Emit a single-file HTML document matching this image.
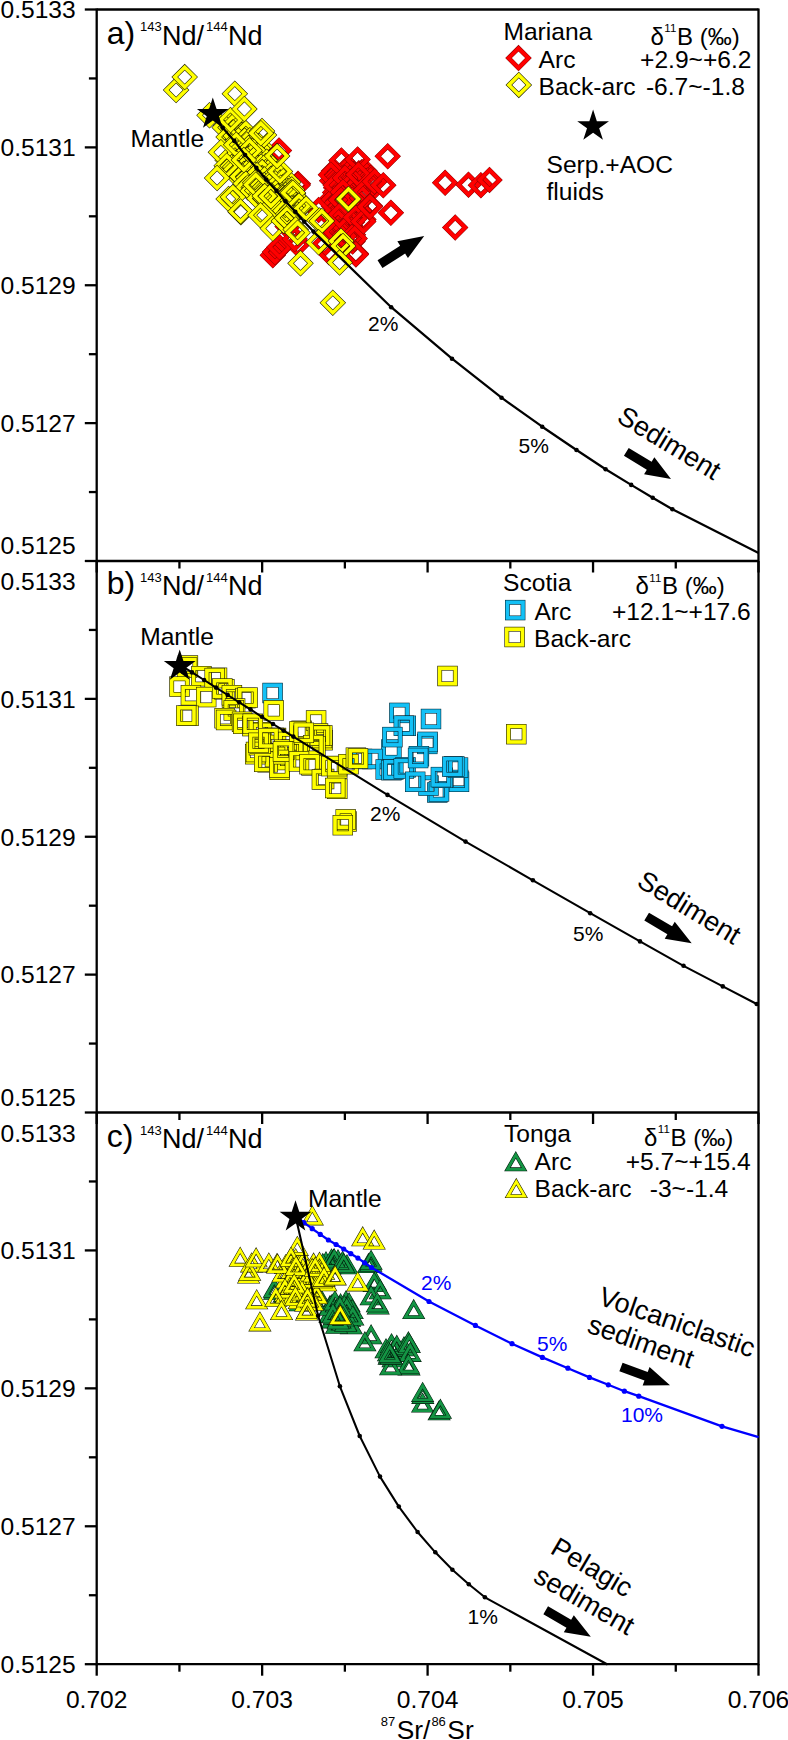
<!DOCTYPE html>
<html><head><meta charset="utf-8"><title>Nd-Sr isotope mixing</title>
<style>
html,body{margin:0;padding:0;background:#fff}
svg{display:block;font-family:"Liberation Sans",Arial,sans-serif}
</style></head><body>
<svg width="788" height="1740" viewBox="0 0 788 1740">
<rect width="788" height="1740" fill="#fff"/>
<defs>
<g id="dr"><rect x="-7.035" y="-7.035" width="14.07" height="14.07" transform="rotate(45)" fill="none" stroke="#7a0000" stroke-width="4.67"/><rect x="-7.035" y="-7.035" width="14.07" height="14.07" transform="rotate(45)" fill="none" stroke="#ff0000" stroke-width="3.91"/></g>
<g id="dy"><rect x="-7.035" y="-7.035" width="14.07" height="14.07" transform="rotate(45)" fill="none" stroke="#1c1c00" stroke-width="4.67"/><rect x="-7.035" y="-7.035" width="14.07" height="14.07" transform="rotate(45)" fill="none" stroke="#ffff00" stroke-width="3.57"/></g>
<g id="sc"><rect x="-7.8" y="-7.8" width="15.6" height="15.6" fill="none" stroke="#02222f" stroke-width="4.8"/><rect x="-7.8" y="-7.8" width="15.6" height="15.6" fill="none" stroke="#14c1f6" stroke-width="3.70"/></g>
<g id="sy"><rect x="-7.8" y="-7.8" width="15.6" height="15.6" fill="none" stroke="#1c1c00" stroke-width="4.8"/><rect x="-7.8" y="-7.8" width="15.6" height="15.6" fill="none" stroke="#ffff00" stroke-width="3.64"/></g>
<g id="tg"><polygon points="0.00,3.84 8.33,18.27 -8.33,18.27" fill="none" stroke="#031c0c" stroke-width="3.84" stroke-linejoin="miter" stroke-miterlimit="10"/><polygon points="0.00,3.84 8.33,18.27 -8.33,18.27" fill="none" stroke="#149544" stroke-width="2.74" stroke-linejoin="miter" stroke-miterlimit="10"/></g>
<g id="ty"><polygon points="0.00,3.84 8.33,18.27 -8.33,18.27" fill="none" stroke="#1c1c00" stroke-width="3.84" stroke-linejoin="miter" stroke-miterlimit="10"/><polygon points="0.00,3.84 8.33,18.27 -8.33,18.27" fill="none" stroke="#ffff00" stroke-width="2.74" stroke-linejoin="miter" stroke-miterlimit="10"/></g>
<polygon id="star" points="0.00,-16.70 3.75,-5.16 15.88,-5.16 6.07,1.97 9.82,13.51 0.00,6.38 -9.82,13.51 -6.07,1.97 -15.88,-5.16 -3.75,-5.16" fill="#000"/>
<polygon id="arrow" points="0,0 -25.5,-9.9 -25.5,-4.6 -52.3,-4.6 -52.3,4.6 -25.5,4.6 -25.5,9.9" fill="#000"/>
</defs>
<g stroke="#000" stroke-width="2.3" fill="none" stroke-linecap="butt">
<line x1="96.7" y1="8.5" x2="96.7" y2="1665.2"/>
<line x1="758.5" y1="8.5" x2="758.5" y2="1665.2"/>
<line x1="96.7" y1="9.5" x2="758.5" y2="9.5"/>
<line x1="96.7" y1="561.0" x2="758.5" y2="561.0"/>
<line x1="96.7" y1="1112.5" x2="758.5" y2="1112.5"/>
<line x1="96.7" y1="1664.2" x2="758.5" y2="1664.2"/>
<line x1="84.8" y1="9.50" x2="96.7" y2="9.50"/>
<line x1="88.9" y1="78.44" x2="96.7" y2="78.44"/>
<line x1="84.8" y1="147.38" x2="96.7" y2="147.38"/>
<line x1="88.9" y1="216.31" x2="96.7" y2="216.31"/>
<line x1="84.8" y1="285.25" x2="96.7" y2="285.25"/>
<line x1="88.9" y1="354.19" x2="96.7" y2="354.19"/>
<line x1="84.8" y1="423.12" x2="96.7" y2="423.12"/>
<line x1="88.9" y1="492.06" x2="96.7" y2="492.06"/>
<line x1="84.8" y1="561.00" x2="96.7" y2="561.00"/>
<line x1="88.9" y1="629.94" x2="96.7" y2="629.94"/>
<line x1="84.8" y1="698.88" x2="96.7" y2="698.88"/>
<line x1="88.9" y1="767.81" x2="96.7" y2="767.81"/>
<line x1="84.8" y1="836.75" x2="96.7" y2="836.75"/>
<line x1="88.9" y1="905.69" x2="96.7" y2="905.69"/>
<line x1="84.8" y1="974.62" x2="96.7" y2="974.62"/>
<line x1="88.9" y1="1043.56" x2="96.7" y2="1043.56"/>
<line x1="84.8" y1="1112.50" x2="96.7" y2="1112.50"/>
<line x1="88.9" y1="1181.46" x2="96.7" y2="1181.46"/>
<line x1="84.8" y1="1250.42" x2="96.7" y2="1250.42"/>
<line x1="88.9" y1="1319.39" x2="96.7" y2="1319.39"/>
<line x1="84.8" y1="1388.35" x2="96.7" y2="1388.35"/>
<line x1="88.9" y1="1457.31" x2="96.7" y2="1457.31"/>
<line x1="84.8" y1="1526.28" x2="96.7" y2="1526.28"/>
<line x1="88.9" y1="1595.24" x2="96.7" y2="1595.24"/>
<line x1="84.8" y1="1664.20" x2="96.7" y2="1664.20"/>
<line x1="96.70" y1="561.0" x2="96.70" y2="572.5"/>
<line x1="179.43" y1="561.0" x2="179.43" y2="568.5"/>
<line x1="262.15" y1="561.0" x2="262.15" y2="572.5"/>
<line x1="344.88" y1="561.0" x2="344.88" y2="568.5"/>
<line x1="427.60" y1="561.0" x2="427.60" y2="572.5"/>
<line x1="510.32" y1="561.0" x2="510.32" y2="568.5"/>
<line x1="593.05" y1="561.0" x2="593.05" y2="572.5"/>
<line x1="675.77" y1="561.0" x2="675.77" y2="568.5"/>
<line x1="758.50" y1="561.0" x2="758.50" y2="572.5"/>
<line x1="96.70" y1="1112.5" x2="96.70" y2="1124.0"/>
<line x1="179.43" y1="1112.5" x2="179.43" y2="1120.0"/>
<line x1="262.15" y1="1112.5" x2="262.15" y2="1124.0"/>
<line x1="344.88" y1="1112.5" x2="344.88" y2="1120.0"/>
<line x1="427.60" y1="1112.5" x2="427.60" y2="1124.0"/>
<line x1="510.32" y1="1112.5" x2="510.32" y2="1120.0"/>
<line x1="593.05" y1="1112.5" x2="593.05" y2="1124.0"/>
<line x1="675.77" y1="1112.5" x2="675.77" y2="1120.0"/>
<line x1="758.50" y1="1112.5" x2="758.50" y2="1124.0"/>
<line x1="96.70" y1="1664.2" x2="96.70" y2="1675.7"/>
<line x1="179.43" y1="1664.2" x2="179.43" y2="1671.7"/>
<line x1="262.15" y1="1664.2" x2="262.15" y2="1675.7"/>
<line x1="344.88" y1="1664.2" x2="344.88" y2="1671.7"/>
<line x1="427.60" y1="1664.2" x2="427.60" y2="1675.7"/>
<line x1="510.32" y1="1664.2" x2="510.32" y2="1671.7"/>
<line x1="593.05" y1="1664.2" x2="593.05" y2="1675.7"/>
<line x1="675.77" y1="1664.2" x2="675.77" y2="1671.7"/>
<line x1="758.50" y1="1664.2" x2="758.50" y2="1675.7"/>
</g>
<g font-size="24.6" fill="#000">
<text x="75.7" y="18.3" text-anchor="end">0.5133</text>
<text x="75.7" y="156.2" text-anchor="end">0.5131</text>
<text x="75.7" y="294.1" text-anchor="end">0.5129</text>
<text x="75.7" y="431.9" text-anchor="end">0.5127</text>
<text x="75.7" y="554.0" text-anchor="end">0.5125</text>
<text x="75.7" y="590.3" text-anchor="end">0.5133</text>
<text x="75.7" y="707.7" text-anchor="end">0.5131</text>
<text x="75.7" y="845.5" text-anchor="end">0.5129</text>
<text x="75.7" y="983.4" text-anchor="end">0.5127</text>
<text x="75.7" y="1105.5" text-anchor="end">0.5125</text>
<text x="75.7" y="1141.8" text-anchor="end">0.5133</text>
<text x="75.7" y="1259.2" text-anchor="end">0.5131</text>
<text x="75.7" y="1397.1" text-anchor="end">0.5129</text>
<text x="75.7" y="1535.1" text-anchor="end">0.5127</text>
<text x="75.7" y="1673.0" text-anchor="end">0.5125</text>
<text x="96.7" y="1708.2" text-anchor="middle">0.702</text>
<text x="262.1" y="1708.2" text-anchor="middle">0.703</text>
<text x="427.6" y="1708.2" text-anchor="middle">0.704</text>
<text x="593.0" y="1708.2" text-anchor="middle">0.705</text>
<text x="758.5" y="1708.2" text-anchor="middle">0.706</text>
</g>
<text x="380.8" y="1739.3" font-size="26.3"><tspan font-size="13" dy="-13.3">87</tspan><tspan dy="13.3" dx="1.5">Sr/</tspan><tspan font-size="13" dy="-13.3" dx="1">86</tspan><tspan dy="13.3" dx="1.5">Sr</tspan></text>
<use href="#dr" x="348.4" y="167.4"/>
<use href="#dr" x="333.0" y="173.2"/>
<use href="#dr" x="333.9" y="171.1"/>
<use href="#dr" x="345.9" y="171.5"/>
<use href="#dr" x="349.9" y="172.5"/>
<use href="#dr" x="352.2" y="172.1"/>
<use href="#dr" x="358.9" y="173.2"/>
<use href="#dr" x="361.8" y="172.2"/>
<use href="#dr" x="364.4" y="170.8"/>
<use href="#dr" x="336.2" y="176.9"/>
<use href="#dr" x="339.3" y="176.0"/>
<use href="#dr" x="344.2" y="177.3"/>
<use href="#dr" x="348.7" y="175.8"/>
<use href="#dr" x="353.0" y="174.3"/>
<use href="#dr" x="355.6" y="177.0"/>
<use href="#dr" x="363.7" y="176.6"/>
<use href="#dr" x="365.8" y="174.9"/>
<use href="#dr" x="370.6" y="178.1"/>
<use href="#dr" x="332.1" y="180.8"/>
<use href="#dr" x="336.8" y="179.5"/>
<use href="#dr" x="339.9" y="182.4"/>
<use href="#dr" x="344.5" y="180.4"/>
<use href="#dr" x="347.7" y="180.8"/>
<use href="#dr" x="354.8" y="178.6"/>
<use href="#dr" x="358.5" y="181.9"/>
<use href="#dr" x="367.4" y="180.7"/>
<use href="#dr" x="370.8" y="180.3"/>
<use href="#dr" x="335.7" y="183.8"/>
<use href="#dr" x="339.8" y="184.9"/>
<use href="#dr" x="343.6" y="184.4"/>
<use href="#dr" x="348.8" y="185.5"/>
<use href="#dr" x="353.4" y="184.8"/>
<use href="#dr" x="355.5" y="183.9"/>
<use href="#dr" x="336.1" y="187.7"/>
<use href="#dr" x="337.9" y="187.5"/>
<use href="#dr" x="345.2" y="188.4"/>
<use href="#dr" x="347.1" y="189.9"/>
<use href="#dr" x="352.4" y="187.7"/>
<use href="#dr" x="335.1" y="192.6"/>
<use href="#dr" x="338.3" y="195.4"/>
<use href="#dr" x="344.2" y="192.6"/>
<use href="#dr" x="349.0" y="195.1"/>
<use href="#dr" x="366.9" y="194.0"/>
<use href="#dr" x="332.2" y="198.3"/>
<use href="#dr" x="334.3" y="198.8"/>
<use href="#dr" x="339.4" y="198.5"/>
<use href="#dr" x="343.5" y="198.7"/>
<use href="#dr" x="346.9" y="197.4"/>
<use href="#dr" x="354.9" y="199.7"/>
<use href="#dr" x="356.6" y="199.6"/>
<use href="#dr" x="332.5" y="200.8"/>
<use href="#dr" x="336.7" y="204.4"/>
<use href="#dr" x="340.1" y="201.3"/>
<use href="#dr" x="345.7" y="204.5"/>
<use href="#dr" x="349.4" y="202.6"/>
<use href="#dr" x="352.5" y="202.0"/>
<use href="#dr" x="356.2" y="203.3"/>
<use href="#dr" x="337.0" y="205.1"/>
<use href="#dr" x="338.6" y="206.3"/>
<use href="#dr" x="346.1" y="208.1"/>
<use href="#dr" x="348.0" y="205.9"/>
<use href="#dr" x="353.7" y="208.3"/>
<use href="#dr" x="337.0" y="210.3"/>
<use href="#dr" x="340.8" y="211.8"/>
<use href="#dr" x="345.6" y="210.9"/>
<use href="#dr" x="348.0" y="210.6"/>
<use href="#dr" x="354.5" y="211.8"/>
<use href="#dr" x="359.2" y="212.9"/>
<use href="#dr" x="360.4" y="211.6"/>
<use href="#dr" x="334.8" y="216.3"/>
<use href="#dr" x="340.9" y="215.3"/>
<use href="#dr" x="344.5" y="214.7"/>
<use href="#dr" x="346.9" y="214.9"/>
<use href="#dr" x="354.5" y="216.1"/>
<use href="#dr" x="333.6" y="219.2"/>
<use href="#dr" x="341.7" y="219.9"/>
<use href="#dr" x="342.7" y="218.9"/>
<use href="#dr" x="347.6" y="221.2"/>
<use href="#dr" x="363.4" y="219.4"/>
<use href="#dr" x="337.3" y="223.8"/>
<use href="#dr" x="340.2" y="224.4"/>
<use href="#dr" x="343.5" y="222.9"/>
<use href="#dr" x="350.2" y="226.5"/>
<use href="#dr" x="341.7" y="228.8"/>
<use href="#dr" x="344.8" y="229.6"/>
<use href="#dr" x="350.3" y="228.6"/>
<use href="#dr" x="340.0" y="231.7"/>
<use href="#dr" x="342.5" y="233.9"/>
<use href="#dr" x="353.0" y="234.8"/>
<use href="#dr" x="341.5" y="237.0"/>
<use href="#dr" x="352.3" y="239.4"/>
<use href="#dr" x="344.4" y="242.4"/>
<use href="#dr" x="352.6" y="241.6"/>
<use href="#dr" x="279.0" y="150.4"/>
<use href="#dr" x="298.0" y="183.8"/>
<use href="#dr" x="297.6" y="185.2"/>
<use href="#dr" x="287.6" y="226.6"/>
<use href="#dr" x="297.6" y="244.2"/>
<use href="#dr" x="277.6" y="249.5"/>
<use href="#dr" x="272.8" y="255.2"/>
<use href="#dr" x="275.0" y="252.0"/>
<use href="#dr" x="279.5" y="247.0"/>
<use href="#dr" x="294.7" y="239.0"/>
<use href="#dr" x="341.4" y="160.5"/>
<use href="#dr" x="357.6" y="159.5"/>
<use href="#dr" x="330.9" y="174.7"/>
<use href="#dr" x="335.7" y="185.2"/>
<use href="#dr" x="333.8" y="206.1"/>
<use href="#dr" x="318.6" y="210.0"/>
<use href="#dr" x="324.3" y="244.2"/>
<use href="#dr" x="329.0" y="252.3"/>
<use href="#dr" x="345.0" y="178.0"/>
<use href="#dr" x="350.0" y="186.0"/>
<use href="#dr" x="343.0" y="192.0"/>
<use href="#dr" x="352.0" y="200.0"/>
<use href="#dr" x="347.0" y="208.0"/>
<use href="#dr" x="356.0" y="206.0"/>
<use href="#dr" x="341.0" y="200.0"/>
<use href="#dr" x="338.0" y="222.0"/>
<use href="#dr" x="346.0" y="228.0"/>
<use href="#dr" x="352.0" y="222.0"/>
<use href="#dr" x="344.0" y="236.0"/>
<use href="#dr" x="336.0" y="232.0"/>
<use href="#dr" x="360.0" y="212.0"/>
<use href="#dr" x="362.0" y="198.0"/>
<use href="#dr" x="358.5" y="174.7"/>
<use href="#dr" x="364.2" y="191.9"/>
<use href="#dr" x="374.7" y="181.4"/>
<use href="#dr" x="383.3" y="185.2"/>
<use href="#dr" x="339.5" y="215.7"/>
<use href="#dr" x="355.7" y="217.6"/>
<use href="#dr" x="363.3" y="221.4"/>
<use href="#dr" x="370.0" y="206.1"/>
<use href="#dr" x="369.9" y="206.7"/>
<use href="#dr" x="351.8" y="237.1"/>
<use href="#dr" x="354.7" y="238.5"/>
<use href="#dr" x="355.8" y="253.6"/>
<use href="#dr" x="355.9" y="254.4"/>
<use href="#dr" x="390.9" y="212.8"/>
<use href="#dr" x="387.7" y="156.3"/>
<use href="#dr" x="445.1" y="182.7"/>
<use href="#dr" x="468.5" y="184.8"/>
<use href="#dr" x="480.9" y="185.2"/>
<use href="#dr" x="489.5" y="179.9"/>
<use href="#dr" x="455.2" y="227.5"/>
<use href="#dy" x="226.2" y="125.3"/>
<use href="#dy" x="232.5" y="121.2"/>
<use href="#dy" x="224.7" y="127.4"/>
<use href="#dy" x="232.6" y="126.7"/>
<use href="#dy" x="239.1" y="127.2"/>
<use href="#dy" x="233.4" y="132.5"/>
<use href="#dy" x="235.7" y="135.7"/>
<use href="#dy" x="242.2" y="134.9"/>
<use href="#dy" x="245.8" y="133.1"/>
<use href="#dy" x="238.4" y="140.5"/>
<use href="#dy" x="244.6" y="140.6"/>
<use href="#dy" x="249.9" y="140.3"/>
<use href="#dy" x="237.2" y="147.2"/>
<use href="#dy" x="244.8" y="147.3"/>
<use href="#dy" x="246.8" y="144.5"/>
<use href="#dy" x="252.4" y="145.3"/>
<use href="#dy" x="259.7" y="146.3"/>
<use href="#dy" x="239.4" y="151.4"/>
<use href="#dy" x="242.3" y="150.4"/>
<use href="#dy" x="248.5" y="148.1"/>
<use href="#dy" x="253.2" y="150.4"/>
<use href="#dy" x="257.5" y="148.3"/>
<use href="#dy" x="235.0" y="154.7"/>
<use href="#dy" x="242.0" y="158.0"/>
<use href="#dy" x="246.0" y="157.1"/>
<use href="#dy" x="252.1" y="156.2"/>
<use href="#dy" x="258.6" y="155.6"/>
<use href="#dy" x="227.6" y="160.2"/>
<use href="#dy" x="231.7" y="161.2"/>
<use href="#dy" x="239.4" y="162.8"/>
<use href="#dy" x="244.8" y="163.0"/>
<use href="#dy" x="247.1" y="160.0"/>
<use href="#dy" x="253.6" y="160.1"/>
<use href="#dy" x="258.8" y="162.2"/>
<use href="#dy" x="266.7" y="161.7"/>
<use href="#dy" x="231.3" y="166.9"/>
<use href="#dy" x="235.2" y="167.0"/>
<use href="#dy" x="244.8" y="168.1"/>
<use href="#dy" x="246.1" y="166.9"/>
<use href="#dy" x="254.7" y="165.6"/>
<use href="#dy" x="261.1" y="166.6"/>
<use href="#dy" x="265.6" y="166.3"/>
<use href="#dy" x="272.6" y="168.2"/>
<use href="#dy" x="233.9" y="171.5"/>
<use href="#dy" x="238.3" y="173.1"/>
<use href="#dy" x="243.9" y="174.1"/>
<use href="#dy" x="246.8" y="172.9"/>
<use href="#dy" x="253.1" y="173.1"/>
<use href="#dy" x="261.5" y="173.0"/>
<use href="#dy" x="262.2" y="172.1"/>
<use href="#dy" x="271.2" y="174.2"/>
<use href="#dy" x="276.4" y="173.9"/>
<use href="#dy" x="278.7" y="174.5"/>
<use href="#dy" x="242.3" y="176.6"/>
<use href="#dy" x="248.4" y="177.6"/>
<use href="#dy" x="252.2" y="180.1"/>
<use href="#dy" x="257.0" y="175.3"/>
<use href="#dy" x="264.5" y="179.5"/>
<use href="#dy" x="270.9" y="179.1"/>
<use href="#dy" x="275.5" y="178.7"/>
<use href="#dy" x="280.3" y="176.7"/>
<use href="#dy" x="245.7" y="183.6"/>
<use href="#dy" x="255.9" y="182.6"/>
<use href="#dy" x="259.3" y="182.7"/>
<use href="#dy" x="264.3" y="185.1"/>
<use href="#dy" x="269.2" y="184.0"/>
<use href="#dy" x="275.5" y="183.5"/>
<use href="#dy" x="283.2" y="181.2"/>
<use href="#dy" x="288.2" y="182.3"/>
<use href="#dy" x="247.9" y="187.5"/>
<use href="#dy" x="252.5" y="191.1"/>
<use href="#dy" x="257.2" y="190.4"/>
<use href="#dy" x="264.0" y="188.1"/>
<use href="#dy" x="269.2" y="186.7"/>
<use href="#dy" x="275.4" y="187.2"/>
<use href="#dy" x="280.8" y="187.8"/>
<use href="#dy" x="288.6" y="190.9"/>
<use href="#dy" x="291.8" y="189.5"/>
<use href="#dy" x="261.2" y="194.3"/>
<use href="#dy" x="265.6" y="196.5"/>
<use href="#dy" x="271.3" y="195.6"/>
<use href="#dy" x="277.4" y="196.5"/>
<use href="#dy" x="282.4" y="196.7"/>
<use href="#dy" x="285.6" y="194.9"/>
<use href="#dy" x="293.0" y="193.7"/>
<use href="#dy" x="259.3" y="198.5"/>
<use href="#dy" x="266.3" y="199.3"/>
<use href="#dy" x="269.1" y="200.5"/>
<use href="#dy" x="273.9" y="198.9"/>
<use href="#dy" x="283.2" y="197.8"/>
<use href="#dy" x="284.8" y="198.3"/>
<use href="#dy" x="290.9" y="199.4"/>
<use href="#dy" x="296.4" y="199.0"/>
<use href="#dy" x="272.6" y="204.8"/>
<use href="#dy" x="275.5" y="205.9"/>
<use href="#dy" x="280.2" y="207.0"/>
<use href="#dy" x="287.1" y="205.7"/>
<use href="#dy" x="292.3" y="207.7"/>
<use href="#dy" x="300.0" y="207.0"/>
<use href="#dy" x="277.9" y="211.5"/>
<use href="#dy" x="278.9" y="212.8"/>
<use href="#dy" x="285.3" y="210.7"/>
<use href="#dy" x="292.4" y="209.0"/>
<use href="#dy" x="297.6" y="208.6"/>
<use href="#dy" x="287.2" y="214.9"/>
<use href="#dy" x="176.1" y="90.1"/>
<use href="#dy" x="184.7" y="77.1"/>
<use href="#dy" x="209.5" y="115.2"/>
<use href="#dy" x="228.6" y="137.1"/>
<use href="#dy" x="220.9" y="152.3"/>
<use href="#dy" x="226.7" y="165.7"/>
<use href="#dy" x="217.1" y="178.0"/>
<use href="#dy" x="228.6" y="199.0"/>
<use href="#dy" x="240.9" y="212.3"/>
<use href="#dy" x="232.9" y="197.1"/>
<use href="#dy" x="240.5" y="211.4"/>
<use href="#dy" x="236.2" y="144.7"/>
<use href="#dy" x="249.5" y="150.4"/>
<use href="#dy" x="243.8" y="160.0"/>
<use href="#dy" x="255.2" y="182.8"/>
<use href="#dy" x="255.7" y="184.8"/>
<use href="#dy" x="264.7" y="196.1"/>
<use href="#dy" x="270.9" y="196.2"/>
<use href="#dy" x="263.8" y="215.2"/>
<use href="#dy" x="260.5" y="215.2"/>
<use href="#dy" x="272.8" y="228.5"/>
<use href="#dy" x="280.0" y="171.4"/>
<use href="#dy" x="277.1" y="156.1"/>
<use href="#dy" x="291.4" y="192.3"/>
<use href="#dy" x="290.9" y="193.3"/>
<use href="#dy" x="292.9" y="192.8"/>
<use href="#dy" x="283.8" y="220.9"/>
<use href="#dy" x="287.1" y="218.1"/>
<use href="#dy" x="295.7" y="229.5"/>
<use href="#dy" x="299.0" y="205.6"/>
<use href="#dy" x="306.1" y="208.6"/>
<use href="#dy" x="297.6" y="232.8"/>
<use href="#dy" x="300.5" y="263.3"/>
<use href="#dy" x="230.5" y="120.0"/>
<use href="#dy" x="234.8" y="93.7"/>
<use href="#dy" x="244.4" y="109.0"/>
<use href="#dy" x="264.0" y="135.0"/>
<use href="#dy" x="262.0" y="131.0"/>
<use href="#dy" x="260.9" y="133.3"/>
<use href="#dy" x="319.5" y="220.4"/>
<use href="#dy" x="321.8" y="220.9"/>
<use href="#dy" x="318.6" y="242.3"/>
<use href="#dy" x="341.0" y="241.0"/>
<use href="#dy" x="343.0" y="246.0"/>
<use href="#dy" x="339.6" y="262.6"/>
<use href="#dy" x="348.1" y="199.5"/>
<use href="#dy" x="348.5" y="199.0"/>
<use href="#dy" x="332.8" y="302.8"/>
<path d="M212.8,113.5 L222.7,127.7 L234.3,140.9 L245.1,155.0 L256.4,167.9 L266.3,179.5 L276.5,191.0 L285.4,201.3 L295.3,211.8 L304.2,221.7 L313.5,231.6 L391.2,307.2 L452.0,358.7 L501.5,397.7 L542.2,426.7 L576.5,450.0 L605.6,469.2 L631.2,484.9 L652.7,497.7 L672.4,509.3 L758.6,553.0" fill="none" stroke="#000" stroke-width="2.25" stroke-linejoin="round"/>
<circle cx="222.7" cy="127.7" r="2.3" fill="#000"/>
<circle cx="234.3" cy="140.9" r="2.3" fill="#000"/>
<circle cx="245.1" cy="155.0" r="2.3" fill="#000"/>
<circle cx="256.4" cy="167.9" r="2.3" fill="#000"/>
<circle cx="266.3" cy="179.5" r="2.3" fill="#000"/>
<circle cx="276.5" cy="191.0" r="2.3" fill="#000"/>
<circle cx="285.4" cy="201.3" r="2.3" fill="#000"/>
<circle cx="295.3" cy="211.8" r="2.3" fill="#000"/>
<circle cx="304.2" cy="221.7" r="2.3" fill="#000"/>
<circle cx="313.5" cy="231.6" r="2.3" fill="#000"/>
<circle cx="391.2" cy="307.2" r="2.3" fill="#000"/>
<circle cx="452.0" cy="358.7" r="2.3" fill="#000"/>
<circle cx="501.5" cy="397.7" r="2.3" fill="#000"/>
<circle cx="542.2" cy="426.7" r="2.3" fill="#000"/>
<circle cx="576.5" cy="450.0" r="2.3" fill="#000"/>
<circle cx="605.6" cy="469.2" r="2.3" fill="#000"/>
<circle cx="631.2" cy="484.9" r="2.3" fill="#000"/>
<circle cx="652.7" cy="497.7" r="2.3" fill="#000"/>
<circle cx="672.4" cy="509.3" r="2.3" fill="#000"/>
<use href="#star" x="212.8" y="114.2"/>
<use href="#star" x="593.1" y="126.3"/>
<text x="106.8" y="43.8" font-size="32">a)</text>
<text x="140.0" y="45" font-size="27"><tspan font-size="13" dy="-13.6">143</tspan><tspan dy="13.6" dx="0.3">Nd/</tspan><tspan font-size="13" dy="-13.6" dx="2">144</tspan><tspan dy="13.6" dx="0.3">Nd</tspan></text>
<text x="130.4" y="147.0" font-size="24.6" fill="#000" text-anchor="start">Mantle</text>
<text x="546.5" y="172.5" font-size="24.6" fill="#000" text-anchor="start">Serp.+AOC</text>
<text x="546.5" y="200.0" font-size="24.6" fill="#000" text-anchor="start">fluids</text>
<text x="368.0" y="331.0" font-size="21" fill="#000" text-anchor="start">2%</text>
<text x="518.5" y="453.0" font-size="21" fill="#000" text-anchor="start">5%</text>
<text transform="translate(615.4,421.0) rotate(31.3)" font-size="27.2" fill="#000">Sediment</text>
<use href="#arrow" transform="translate(671.0,479.0) rotate(31.3)"/>
<use href="#arrow" transform="translate(424.2,236.1) rotate(-32.3)"/>
<text x="503.4" y="40.0" font-size="24.6" fill="#000" text-anchor="start">Mariana</text>
<text x="650.5" y="44.8" font-size="24">δ<tspan font-size="11.5" dy="-12.5" dx="0.5">11</tspan><tspan dy="12.5" dx="0.8">B (‰)</tspan></text>
<use href="#dr" x="518.5" y="58.1"/>
<use href="#dy" x="518.8" y="84.9"/>
<text x="538.6" y="68.2" font-size="24.6" fill="#000" text-anchor="start">Arc</text>
<text x="538.6" y="94.5" font-size="24.6" fill="#000" text-anchor="start">Back-arc</text>
<text x="751.5" y="68.2" font-size="24.6" fill="#000" text-anchor="end">+2.9~+6.2</text>
<text x="745.0" y="94.5" font-size="24.6" fill="#000" text-anchor="end">-6.7~-1.8</text>
<use href="#sc" x="272.6" y="693.0"/>
<use href="#sc" x="399.4" y="712.9"/>
<use href="#sc" x="431.0" y="719.0"/>
<use href="#sc" x="405.8" y="725.8"/>
<use href="#sc" x="403.8" y="725.7"/>
<use href="#sc" x="427.3" y="743.9"/>
<use href="#sc" x="427.6" y="741.9"/>
<use href="#sc" x="391.4" y="749.5"/>
<use href="#sc" x="392.4" y="737.1"/>
<use href="#sc" x="362.0" y="759.0"/>
<use href="#sc" x="372.4" y="759.0"/>
<use href="#sc" x="385.7" y="769.5"/>
<use href="#sc" x="391.4" y="770.2"/>
<use href="#sc" x="393.3" y="769.5"/>
<use href="#sc" x="405.5" y="767.4"/>
<use href="#sc" x="403.8" y="768.5"/>
<use href="#sc" x="418.9" y="756.2"/>
<use href="#sc" x="418.1" y="758.0"/>
<use href="#sc" x="458.2" y="780.0"/>
<use href="#sc" x="459.0" y="781.8"/>
<use href="#sc" x="437.3" y="792.5"/>
<use href="#sc" x="439.0" y="791.4"/>
<use href="#sc" x="428.5" y="785.6"/>
<use href="#sc" x="442.8" y="777.8"/>
<use href="#sc" x="440.9" y="777.1"/>
<use href="#sc" x="415.2" y="781.8"/>
<use href="#sc" x="458.0" y="767.6"/>
<use href="#sc" x="454.3" y="766.4"/>
<use href="#sc" x="452.3" y="766.6"/>
<use href="#sy" x="259.9" y="732.2"/>
<use href="#sy" x="262.0" y="733.0"/>
<use href="#sy" x="270.0" y="745.0"/>
<use href="#sy" x="273.7" y="737.9"/>
<use href="#sy" x="276.0" y="738.0"/>
<use href="#sy" x="288.0" y="742.0"/>
<use href="#sy" x="290.7" y="749.8"/>
<use href="#sy" x="293.0" y="750.0"/>
<use href="#sy" x="275.0" y="757.0"/>
<use href="#sy" x="286.0" y="760.0"/>
<use href="#sy" x="255.2" y="754.2"/>
<use href="#sy" x="256.0" y="752.0"/>
<use href="#sy" x="187.9" y="665.5"/>
<use href="#sy" x="187.1" y="667.6"/>
<use href="#sy" x="201.4" y="676.2"/>
<use href="#sy" x="217.0" y="677.8"/>
<use href="#sy" x="214.7" y="678.1"/>
<use href="#sy" x="179.5" y="686.6"/>
<use href="#sy" x="190.9" y="695.2"/>
<use href="#sy" x="206.2" y="697.1"/>
<use href="#sy" x="188.5" y="715.8"/>
<use href="#sy" x="186.2" y="715.6"/>
<use href="#sy" x="224.4" y="689.3"/>
<use href="#sy" x="222.3" y="688.5"/>
<use href="#sy" x="232.0" y="697.5"/>
<use href="#sy" x="231.9" y="695.2"/>
<use href="#sy" x="245.4" y="698.1"/>
<use href="#sy" x="247.6" y="697.6"/>
<use href="#sy" x="235.1" y="708.5"/>
<use href="#sy" x="233.8" y="710.4"/>
<use href="#sy" x="224.6" y="718.2"/>
<use href="#sy" x="226.1" y="720.0"/>
<use href="#sy" x="242.1" y="721.8"/>
<use href="#sy" x="243.3" y="723.8"/>
<use href="#sy" x="252.4" y="726.1"/>
<use href="#sy" x="252.8" y="723.8"/>
<use href="#sy" x="273.7" y="710.4"/>
<use href="#sy" x="259.0" y="745.2"/>
<use href="#sy" x="267.6" y="762.3"/>
<use href="#sy" x="264.2" y="761.8"/>
<use href="#sy" x="279.7" y="769.8"/>
<use href="#sy" x="279.4" y="767.5"/>
<use href="#sy" x="260.6" y="743.8"/>
<use href="#sy" x="258.5" y="742.8"/>
<use href="#sy" x="268.3" y="738.2"/>
<use href="#sy" x="284.3" y="749.7"/>
<use href="#sy" x="283.0" y="751.6"/>
<use href="#sy" x="301.6" y="730.8"/>
<use href="#sy" x="299.4" y="731.4"/>
<use href="#sy" x="316.1" y="720.5"/>
<use href="#sy" x="322.6" y="740.2"/>
<use href="#sy" x="322.0" y="738.0"/>
<use href="#sy" x="318.0" y="733.5"/>
<use href="#sy" x="322.3" y="735.4"/>
<use href="#sy" x="320.0" y="735.7"/>
<use href="#sy" x="315.4" y="746.2"/>
<use href="#sy" x="313.3" y="745.2"/>
<use href="#sy" x="303.8" y="732.8"/>
<use href="#sy" x="299.0" y="761.4"/>
<use href="#sy" x="311.5" y="765.4"/>
<use href="#sy" x="309.5" y="764.2"/>
<use href="#sy" x="324.1" y="779.0"/>
<use href="#sy" x="321.9" y="779.5"/>
<use href="#sy" x="331.4" y="766.1"/>
<use href="#sy" x="337.2" y="768.4"/>
<use href="#sy" x="337.1" y="766.1"/>
<use href="#sy" x="337.3" y="788.8"/>
<use href="#sy" x="335.2" y="788.0"/>
<use href="#sy" x="348.5" y="764.2"/>
<use href="#sy" x="355.9" y="757.7"/>
<use href="#sy" x="358.0" y="758.5"/>
<use href="#sy" x="346.5" y="821.5"/>
<use href="#sy" x="345.7" y="819.4"/>
<use href="#sy" x="342.8" y="825.2"/>
<use href="#sy" x="447.5" y="676.0"/>
<use href="#sy" x="516.3" y="734.2"/>
<path d="M179.7,664.7 L192.0,672.4 L204.1,680.0 L216.0,687.6 L227.7,695.0 L239.2,702.3 L250.5,709.4 L261.9,716.8 L273.0,724.0 L283.6,730.6 L293.3,736.6 L387.5,794.9 L465.5,841.6 L532.9,880.3 L590.2,913.2 L640.0,941.4 L683.5,965.8 L722.8,986.4 L756.7,1004.0 L758.6,1005.0" fill="none" stroke="#000" stroke-width="2.05" stroke-linejoin="round"/>
<circle cx="192.0" cy="672.4" r="2.3" fill="#000"/>
<circle cx="204.1" cy="680.0" r="2.3" fill="#000"/>
<circle cx="216.0" cy="687.6" r="2.3" fill="#000"/>
<circle cx="227.7" cy="695.0" r="2.3" fill="#000"/>
<circle cx="239.2" cy="702.3" r="2.3" fill="#000"/>
<circle cx="250.5" cy="709.4" r="2.3" fill="#000"/>
<circle cx="261.9" cy="716.8" r="2.3" fill="#000"/>
<circle cx="273.0" cy="724.0" r="2.3" fill="#000"/>
<circle cx="283.6" cy="730.6" r="2.3" fill="#000"/>
<circle cx="293.3" cy="736.6" r="2.3" fill="#000"/>
<circle cx="387.5" cy="794.9" r="2.3" fill="#000"/>
<circle cx="465.5" cy="841.6" r="2.3" fill="#000"/>
<circle cx="532.9" cy="880.3" r="2.3" fill="#000"/>
<circle cx="590.2" cy="913.2" r="2.3" fill="#000"/>
<circle cx="640.0" cy="941.4" r="2.3" fill="#000"/>
<circle cx="683.5" cy="965.8" r="2.3" fill="#000"/>
<circle cx="722.8" cy="986.4" r="2.3" fill="#000"/>
<circle cx="756.7" cy="1004.0" r="2.3" fill="#000"/>
<use href="#star" x="179.7" y="666.2"/>
<text x="106.8" y="594.0999999999999" font-size="32">b)</text>
<text x="140.0" y="595.3" font-size="27"><tspan font-size="13" dy="-13.6">143</tspan><tspan dy="13.6" dx="0.3">Nd/</tspan><tspan font-size="13" dy="-13.6" dx="2">144</tspan><tspan dy="13.6" dx="0.3">Nd</tspan></text>
<text x="140.2" y="644.8" font-size="24.6" fill="#000" text-anchor="start">Mantle</text>
<text x="370.0" y="820.5" font-size="21" fill="#000" text-anchor="start">2%</text>
<text x="573.0" y="941.0" font-size="21" fill="#000" text-anchor="start">5%</text>
<text transform="translate(635.4,885.5) rotate(31.3)" font-size="27.2" fill="#000">Sediment</text>
<use href="#arrow" transform="translate(691.7,943.2) rotate(30.5)"/>
<text x="503.0" y="590.6" font-size="24.6" fill="#000" text-anchor="start">Scotia</text>
<text x="635.5" y="594.2" font-size="24">δ<tspan font-size="11.5" dy="-12.5" dx="0.5">11</tspan><tspan dy="12.5" dx="0.8">B (‰)</tspan></text>
<use href="#sc" x="515.2" y="610.1"/>
<use href="#sy" x="514.6" y="637.0"/>
<text x="534.4" y="619.8" font-size="24.6" fill="#000" text-anchor="start">Arc</text>
<text x="534.0" y="646.6" font-size="24.6" fill="#000" text-anchor="start">Back-arc</text>
<text x="750.8" y="619.8" font-size="24.6" fill="#000" text-anchor="end">+12.1~+17.6</text>
<use href="#tg" x="332.1" y="1293.6"/>
<use href="#tg" x="340.6" y="1293.0"/>
<use href="#tg" x="346.0" y="1290.0"/>
<use href="#tg" x="349.1" y="1292.1"/>
<use href="#tg" x="329.9" y="1295.0"/>
<use href="#tg" x="334.0" y="1297.8"/>
<use href="#tg" x="339.0" y="1295.4"/>
<use href="#tg" x="344.4" y="1295.0"/>
<use href="#tg" x="352.2" y="1298.8"/>
<use href="#tg" x="330.0" y="1302.9"/>
<use href="#tg" x="335.4" y="1304.2"/>
<use href="#tg" x="339.0" y="1302.1"/>
<use href="#tg" x="345.0" y="1302.2"/>
<use href="#tg" x="348.3" y="1301.5"/>
<use href="#tg" x="332.4" y="1308.2"/>
<use href="#tg" x="338.9" y="1307.2"/>
<use href="#tg" x="347.0" y="1306.5"/>
<use href="#tg" x="349.6" y="1306.5"/>
<use href="#tg" x="341.0" y="1311.5"/>
<use href="#tg" x="342.3" y="1312.2"/>
<use href="#tg" x="351.3" y="1314.1"/>
<use href="#tg" x="326.0" y="1251.0"/>
<use href="#tg" x="338.0" y="1249.0"/>
<use href="#tg" x="347.0" y="1254.0"/>
<use href="#tg" x="330.0" y="1254.0"/>
<use href="#tg" x="394.0" y="1338.0"/>
<use href="#tg" x="400.0" y="1340.0"/>
<use href="#tg" x="386.0" y="1338.0"/>
<use href="#tg" x="404.0" y="1336.0"/>
<use href="#tg" x="393.0" y="1347.0"/>
<use href="#tg" x="284.2" y="1282.2"/>
<use href="#tg" x="285.0" y="1284.0"/>
<use href="#tg" x="300.0" y="1291.0"/>
<use href="#tg" x="322.0" y="1290.0"/>
<use href="#tg" x="312.2" y="1286.0"/>
<use href="#tg" x="312.0" y="1284.0"/>
<use href="#tg" x="274.6" y="1279.6"/>
<use href="#tg" x="274.3" y="1277.6"/>
<use href="#tg" x="322.8" y="1252.8"/>
<use href="#tg" x="331.5" y="1248.2"/>
<use href="#tg" x="333.5" y="1248.6"/>
<use href="#tg" x="333.6" y="1250.0"/>
<use href="#tg" x="334.2" y="1248.1"/>
<use href="#tg" x="342.6" y="1250.6"/>
<use href="#tg" x="343.7" y="1252.8"/>
<use href="#tg" x="368.5" y="1252.8"/>
<use href="#tg" x="370.8" y="1251.6"/>
<use href="#tg" x="371.1" y="1249.6"/>
<use href="#tg" x="375.5" y="1270.5"/>
<use href="#tg" x="374.1" y="1271.9"/>
<use href="#tg" x="380.2" y="1279.0"/>
<use href="#tg" x="371.1" y="1285.1"/>
<use href="#tg" x="378.2" y="1294.3"/>
<use href="#tg" x="377.3" y="1292.0"/>
<use href="#tg" x="413.7" y="1298.8"/>
<use href="#tg" x="330.5" y="1295.3"/>
<use href="#tg" x="347.9" y="1295.7"/>
<use href="#tg" x="346.7" y="1297.3"/>
<use href="#tg" x="352.8" y="1305.4"/>
<use href="#tg" x="336.5" y="1313.6"/>
<use href="#tg" x="345.7" y="1311.5"/>
<use href="#tg" x="335.0" y="1290.0"/>
<use href="#tg" x="338.2" y="1296.9"/>
<use href="#tg" x="340.0" y="1296.0"/>
<use href="#tg" x="334.5" y="1304.3"/>
<use href="#tg" x="333.0" y="1303.0"/>
<use href="#tg" x="343.0" y="1306.0"/>
<use href="#tg" x="338.0" y="1309.0"/>
<use href="#tg" x="371.1" y="1324.0"/>
<use href="#tg" x="364.9" y="1331.1"/>
<use href="#tg" x="391.5" y="1332.9"/>
<use href="#tg" x="396.8" y="1334.6"/>
<use href="#tg" x="408.4" y="1331.1"/>
<use href="#tg" x="409.3" y="1332.9"/>
<use href="#tg" x="410.2" y="1341.7"/>
<use href="#tg" x="409.0" y="1355.2"/>
<use href="#tg" x="408.4" y="1353.3"/>
<use href="#tg" x="390.6" y="1355.1"/>
<use href="#tg" x="389.1" y="1344.5"/>
<use href="#tg" x="391.0" y="1344.0"/>
<use href="#tg" x="388.5" y="1341.0"/>
<use href="#tg" x="391.1" y="1344.1"/>
<use href="#tg" x="389.7" y="1342.6"/>
<use href="#tg" x="422.6" y="1392.4"/>
<use href="#tg" x="422.8" y="1383.7"/>
<use href="#tg" x="422.6" y="1381.7"/>
<use href="#tg" x="439.1" y="1400.1"/>
<use href="#tg" x="440.4" y="1398.6"/>
<use href="#ty" x="295.7" y="1248.0"/>
<use href="#ty" x="285.6" y="1253.9"/>
<use href="#ty" x="293.0" y="1249.9"/>
<use href="#ty" x="300.0" y="1253.0"/>
<use href="#ty" x="303.8" y="1249.8"/>
<use href="#ty" x="313.6" y="1252.3"/>
<use href="#ty" x="319.3" y="1254.7"/>
<use href="#ty" x="285.2" y="1261.5"/>
<use href="#ty" x="294.2" y="1256.6"/>
<use href="#ty" x="296.4" y="1257.3"/>
<use href="#ty" x="307.7" y="1258.6"/>
<use href="#ty" x="312.2" y="1257.8"/>
<use href="#ty" x="318.0" y="1258.3"/>
<use href="#ty" x="323.6" y="1259.5"/>
<use href="#ty" x="286.6" y="1268.0"/>
<use href="#ty" x="294.1" y="1268.4"/>
<use href="#ty" x="299.5" y="1263.5"/>
<use href="#ty" x="307.1" y="1268.2"/>
<use href="#ty" x="313.9" y="1265.9"/>
<use href="#ty" x="319.3" y="1263.8"/>
<use href="#ty" x="287.6" y="1274.9"/>
<use href="#ty" x="289.6" y="1273.8"/>
<use href="#ty" x="298.0" y="1270.0"/>
<use href="#ty" x="303.8" y="1273.6"/>
<use href="#ty" x="313.7" y="1269.3"/>
<use href="#ty" x="318.7" y="1269.3"/>
<use href="#ty" x="325.8" y="1271.0"/>
<use href="#ty" x="285.5" y="1281.4"/>
<use href="#ty" x="290.9" y="1276.0"/>
<use href="#ty" x="299.1" y="1275.8"/>
<use href="#ty" x="303.2" y="1278.0"/>
<use href="#ty" x="312.1" y="1276.5"/>
<use href="#ty" x="315.3" y="1280.7"/>
<use href="#ty" x="285.3" y="1285.1"/>
<use href="#ty" x="292.8" y="1285.6"/>
<use href="#ty" x="298.8" y="1285.7"/>
<use href="#ty" x="307.6" y="1285.0"/>
<use href="#ty" x="311.1" y="1286.3"/>
<use href="#ty" x="316.5" y="1283.8"/>
<use href="#ty" x="299.3" y="1288.9"/>
<use href="#ty" x="305.7" y="1291.3"/>
<use href="#ty" x="312.5" y="1290.6"/>
<use href="#ty" x="312.3" y="1205.2"/>
<use href="#ty" x="248.6" y="1263.3"/>
<use href="#ty" x="283.0" y="1262.0"/>
<use href="#ty" x="300.0" y="1262.0"/>
<use href="#ty" x="307.0" y="1268.0"/>
<use href="#ty" x="290.0" y="1270.0"/>
<use href="#ty" x="302.0" y="1280.0"/>
<use href="#ty" x="285.0" y="1278.0"/>
<use href="#ty" x="306.6" y="1300.4"/>
<use href="#ty" x="240.2" y="1246.5"/>
<use href="#ty" x="251.6" y="1252.2"/>
<use href="#ty" x="249.7" y="1260.5"/>
<use href="#ty" x="256.1" y="1247.1"/>
<use href="#ty" x="268.8" y="1252.2"/>
<use href="#ty" x="277.0" y="1252.8"/>
<use href="#ty" x="277.6" y="1253.3"/>
<use href="#ty" x="297.3" y="1235.7"/>
<use href="#ty" x="291.0" y="1246.5"/>
<use href="#ty" x="319.5" y="1251.6"/>
<use href="#ty" x="321.4" y="1268.0"/>
<use href="#ty" x="296.0" y="1255.4"/>
<use href="#ty" x="294.2" y="1273.1"/>
<use href="#ty" x="256.7" y="1289.0"/>
<use href="#ty" x="275.8" y="1286.5"/>
<use href="#ty" x="295.4" y="1285.8"/>
<use href="#ty" x="307.5" y="1287.1"/>
<use href="#ty" x="307.5" y="1298.5"/>
<use href="#ty" x="281.5" y="1299.8"/>
<use href="#ty" x="259.9" y="1311.2"/>
<use href="#ty" x="315.2" y="1256.6"/>
<use href="#ty" x="324.0" y="1266.7"/>
<use href="#ty" x="334.8" y="1264.8"/>
<use href="#ty" x="335.2" y="1265.2"/>
<use href="#ty" x="357.7" y="1271.2"/>
<use href="#ty" x="362.7" y="1226.1"/>
<use href="#ty" x="374.2" y="1229.3"/>
<use href="#ty" x="339.9" y="1304.2"/>
<use href="#ty" x="340.3" y="1304.6"/>
<path d="M295.5,1216.0 L304.0,1222.6 L312.2,1228.7 L320.3,1234.4 L328.4,1240.0 L336.1,1244.5 L343.7,1249.0 L350.8,1253.7 L357.9,1258.1 L364.6,1262.8 L371.5,1267.5 L429.0,1301.5 L475.4,1325.4 L512.0,1343.7 L542.4,1357.4 L567.9,1368.2 L589.5,1377.4 L608.3,1384.8 L624.4,1391.2 L638.8,1396.2 L722.0,1426.3 L758.6,1437.2" fill="none" stroke="#0000ff" stroke-width="2.3" stroke-linejoin="round"/>
<circle cx="304.0" cy="1222.6" r="2.6" fill="#0000ff"/>
<circle cx="312.2" cy="1228.7" r="2.6" fill="#0000ff"/>
<circle cx="320.3" cy="1234.4" r="2.6" fill="#0000ff"/>
<circle cx="328.4" cy="1240.0" r="2.6" fill="#0000ff"/>
<circle cx="336.1" cy="1244.5" r="2.6" fill="#0000ff"/>
<circle cx="343.7" cy="1249.0" r="2.6" fill="#0000ff"/>
<circle cx="350.8" cy="1253.7" r="2.6" fill="#0000ff"/>
<circle cx="357.9" cy="1258.1" r="2.6" fill="#0000ff"/>
<circle cx="364.6" cy="1262.8" r="2.6" fill="#0000ff"/>
<circle cx="371.5" cy="1267.5" r="2.6" fill="#0000ff"/>
<circle cx="429.0" cy="1301.5" r="2.6" fill="#0000ff"/>
<circle cx="475.4" cy="1325.4" r="2.6" fill="#0000ff"/>
<circle cx="512.0" cy="1343.7" r="2.6" fill="#0000ff"/>
<circle cx="542.4" cy="1357.4" r="2.6" fill="#0000ff"/>
<circle cx="567.9" cy="1368.2" r="2.6" fill="#0000ff"/>
<circle cx="589.5" cy="1377.4" r="2.6" fill="#0000ff"/>
<circle cx="608.3" cy="1384.8" r="2.6" fill="#0000ff"/>
<circle cx="624.4" cy="1391.2" r="2.6" fill="#0000ff"/>
<circle cx="638.8" cy="1396.2" r="2.6" fill="#0000ff"/>
<circle cx="722.0" cy="1426.3" r="2.6" fill="#0000ff"/>
<path d="M295.5,1216.0 L318.1,1315.7 L339.9,1386.3 L359.7,1436.0 L380.0,1476.6 L398.8,1506.6 L417.6,1532.0 L435.3,1552.3 L452.4,1569.8 L468.8,1584.2 L484.9,1597.3 L607.5,1664.5" fill="none" stroke="#000" stroke-width="2.05" stroke-linejoin="round"/>
<circle cx="318.1" cy="1315.7" r="2.3" fill="#000"/>
<circle cx="339.9" cy="1386.3" r="2.3" fill="#000"/>
<circle cx="359.7" cy="1436.0" r="2.3" fill="#000"/>
<circle cx="380.0" cy="1476.6" r="2.3" fill="#000"/>
<circle cx="398.8" cy="1506.6" r="2.3" fill="#000"/>
<circle cx="417.6" cy="1532.0" r="2.3" fill="#000"/>
<circle cx="435.3" cy="1552.3" r="2.3" fill="#000"/>
<circle cx="452.4" cy="1569.8" r="2.3" fill="#000"/>
<circle cx="468.8" cy="1584.2" r="2.3" fill="#000"/>
<circle cx="484.9" cy="1597.3" r="2.3" fill="#000"/>
<use href="#star" x="295.5" y="1217.0"/>
<text x="106.8" y="1146.8999999999999" font-size="32">c)</text>
<text x="140.0" y="1148.1" font-size="27"><tspan font-size="13" dy="-13.6">143</tspan><tspan dy="13.6" dx="0.3">Nd/</tspan><tspan font-size="13" dy="-13.6" dx="2">144</tspan><tspan dy="13.6" dx="0.3">Nd</tspan></text>
<text x="307.9" y="1206.9" font-size="24.6" fill="#000" text-anchor="start">Mantle</text>
<text x="421.0" y="1290.0" font-size="21" fill="#0000ff" text-anchor="start">2%</text>
<text x="537.0" y="1351.0" font-size="21" fill="#0000ff" text-anchor="start">5%</text>
<text x="621.0" y="1422.0" font-size="21" fill="#0000ff" text-anchor="start">10%</text>
<text x="467.6" y="1624.0" font-size="21" fill="#000" text-anchor="start">1%</text>
<text transform="translate(596.9,1304.0) rotate(19.2)" font-size="27.2" fill="#000">Volcaniclastic</text>
<text transform="translate(585.9,1332.0) rotate(19.5)" font-size="27.2" fill="#000">sediment</text>
<use href="#arrow" transform="translate(670.0,1385.2) rotate(20.4)"/>
<text transform="translate(548.9,1552.5) rotate(30.6)" font-size="27.2" fill="#000">Pelagic</text>
<text transform="translate(531.9,1581.0) rotate(29.8)" font-size="27.2" fill="#000">sediment</text>
<use href="#arrow" transform="translate(590.8,1636.7) rotate(30.4)"/>
<text x="504.0" y="1141.8" font-size="24.6" fill="#000" text-anchor="start">Tonga</text>
<text x="644.0" y="1145.8" font-size="24">δ<tspan font-size="11.5" dy="-12.5" dx="0.5">11</tspan><tspan dy="12.5" dx="0.8">B (‰)</tspan></text>
<use href="#tg" x="515.8" y="1151.0"/>
<use href="#ty" x="516.3" y="1177.8"/>
<text x="534.6" y="1170.2" font-size="24.6" fill="#000" text-anchor="start">Arc</text>
<text x="534.6" y="1197.0" font-size="24.6" fill="#000" text-anchor="start">Back-arc</text>
<text x="750.8" y="1170.2" font-size="24.6" fill="#000" text-anchor="end">+5.7~+15.4</text>
<text x="728.3" y="1197.0" font-size="24.6" fill="#000" text-anchor="end">-3~-1.4</text>
</svg>
</body></html>
